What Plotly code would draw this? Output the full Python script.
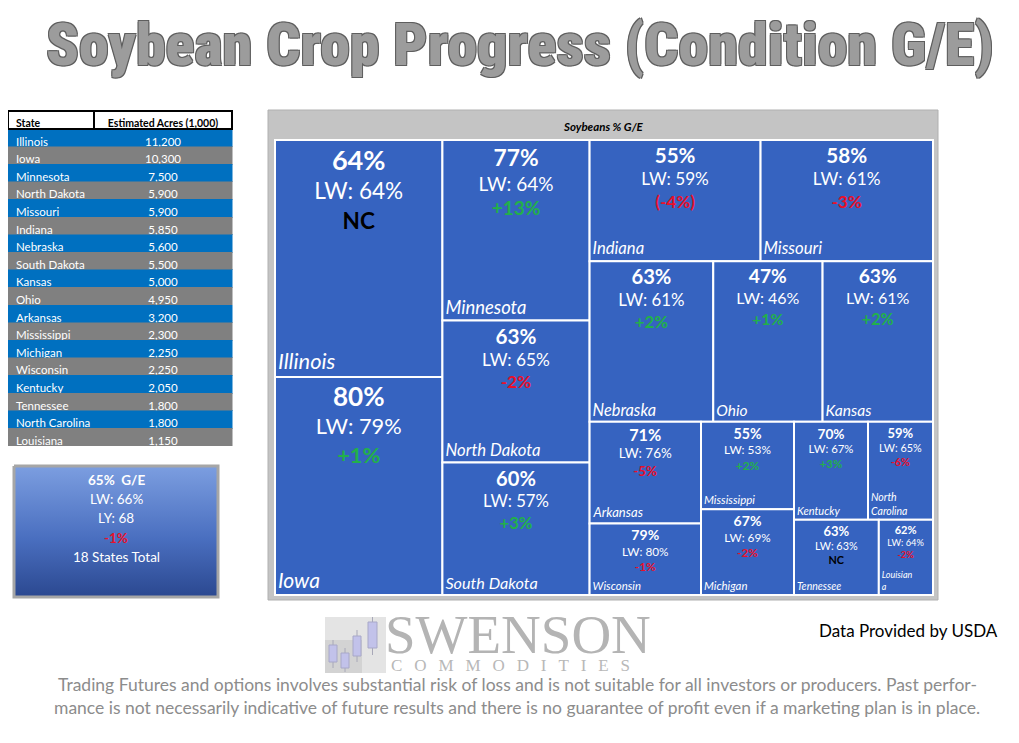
import math
import plotly.graph_objects as go

# page offset (browser body margin) and figure size
OFF = 8
W, H = 1003, 727

TITLE = "Soybean Crop Progress (Condition G/E)"
TREEMAP_TITLE = "Soybeans % G/E"

# ---- table data ----
TABLE_HEADER = ["State", "Estimated Acres (1,000)"]
TABLE_STATES = ["Illinois", "Iowa", "Minnesota", "North Dakota", "Missouri", "Indiana",
                "Nebraska", "South Dakota", "Kansas", "Ohio", "Arkansas", "Mississippi",
                "Michigan", "Wisconsin", "Kentucky", "Tennessee", "North Carolina", "Louisiana"]
TABLE_ACRES = [11200, 10300, 7500, 5900, 5900, 5850, 5600, 5500, 5000, 4950, 3200, 2300,
               2250, 2250, 2050, 1800, 1800, 1150]

# ---- treemap data (in tile order) ----
TM_STATES = ["Illinois", "Iowa", "Minnesota", "North Dakota", "South Dakota", "Indiana",
             "Missouri", "Nebraska", "Ohio", "Kansas", "Arkansas", "Wisconsin",
             "Mississippi", "Michigan", "Kentucky", "North Carolina", "Tennessee", "Louisiana"]
TM_GE = [64, 80, 77, 63, 60, 55, 58, 63, 47, 63, 71, 79, 55, 67, 70, 59, 63, 62]
TM_LW = [64, 79, 64, 65, 57, 59, 61, 61, 46, 61, 76, 80, 53, 69, 67, 65, 63, 64]
TM_CHANGE = ["NC", "+1%", "+13%", "-2%", "+3%", "(-4%)", "-3%", "+2%", "+1%", "+2%",
             "-5%", "-1%", "+2%", "-2%", "+3%", "-6%", "NC", "-2%"]
TM_NAME_LABEL = ["Illinois", "Iowa", "Minnesota", "North Dakota", "South Dakota", "Indiana",
                 "Missouri", "Nebraska", "Ohio", "Kansas", "Arkansas", "Wisconsin",
                 "Mississippi", "Michigan", "Kentucky", "North<br>Carolina", "Tennessee",
                 "Louisian<br>a"]
# grouping used to arrange the tiles (slice-dice)
TM_GROUP = ["col1", "col1", "col2", "col2", "col2", "row1", "row1", "row2", "row2", "row2",
            "r3a", "r3a", "r3b", "r3b", "r3c1", "r3c1", "r3c2", "r3c2"]
GROUPS = ["all", "col1", "col2", "col3", "row1", "row2", "row3", "r3a", "r3b", "r3c",
          "r3c1", "r3c2"]
GROUP_PARENTS = ["", "all", "all", "all", "col3", "col3", "col3", "row3", "row3", "row3",
                 "r3c", "r3c"]

# ---- summary ----
SUM_GE = 65
SUM_LW = 66
SUM_LY = 68
SUM_CHANGE = "-1%"
SUM_STATES = 18

SOURCE = "Data Provided by USDA"
DISCLAIMER_1 = ("Trading Futures and options involves substantial risk of loss and is not suitable "
                "for all investors or producers. Past perfor-")
DISCLAIMER_2 = ("mance is not necessarily indicative of future results and there is no guarantee "
                "of profit even if a marketing plan is in place.")

# ---------------------------------------------------------------
BLUE = "#3663c0"
GREEN = "#22b04b"
RED = "#e8102a"
FONT = "Lato"
COND = "font-stretch:condensed"
NBSP = "\u00a0"


def px_x(p):
    return (p - OFF) / W


def px_y(p):
    return 1 - (p - OFF) / H


def change_color(c):
    if c.startswith("+"):
        return GREEN
    if c.startswith("-") or c.startswith("(-"):
        return RED
    return "#000000"


acre_map = dict(zip(TABLE_STATES, TABLE_ACRES))
tm_acres = [acre_map[s] for s in TM_STATES]

ids = GROUPS + TM_STATES
parents = GROUP_PARENTS + TM_GROUP
values = [0] * len(GROUPS) + tm_acres

sizes = [3.0 + 0.185 * math.sqrt(a) for a in tm_acres]

main_text = []
for ge, lw, ch, sz in zip(TM_GE, TM_LW, TM_CHANGE, sizes):
    main_text.append(
        f"<b><span style='font-size:{sz*1.2:.1f}px'>{ge}%</span></b><br>LW: {lw}%<br>"
        f"<b><span style='color:{change_color(ch)}'>{ch}</span></b>")
name_text = [f"<i>{n}</i>" for n in TM_NAME_LABEL]

ng = len(GROUPS)
domain = dict(x=[px_x(275), px_x(933)], y=[px_y(595), px_y(140)])

fig = go.Figure()

fig.add_trace(go.Treemap(
    ids=ids, labels=ids, parents=parents, values=values,
    branchvalues="remainder", sort=False,
    tiling=dict(packing="slice-dice", pad=0),
    marker=dict(colors=["rgba(0,0,0,0)"] * ng + [BLUE] * len(TM_STATES),
                line=dict(color=["rgba(0,0,0,0)"] * ng + ["white"] * len(TM_STATES),
                          width=[0] * ng + [2] * len(TM_STATES)),
                pad=dict(t=0, l=0, r=0, b=0), depthfade=False),
    text=[""] * ng + main_text, textinfo="text",
    textposition="top center",
    textfont=dict(family=FONT, color="white", size=[10] * ng + sizes),
    pathbar=dict(visible=False), hoverinfo="skip", domain=domain,
))
fig.add_trace(go.Treemap(
    ids=ids, labels=ids, parents=parents, values=values,
    branchvalues="remainder", sort=False,
    tiling=dict(packing="slice-dice", pad=0),
    marker=dict(colors=["rgba(0,0,0,0)"] * len(ids),
                line=dict(color="rgba(0,0,0,0)", width=0),
                pad=dict(t=0, l=0, r=0, b=0), depthfade=False),
    text=[""] * ng + name_text, textinfo="text",
    textposition="bottom left",
    textfont=dict(family=FONT, color="white", size=[10] * ng + [s * 0.97 for s in sizes]),
    pathbar=dict(visible=False), hoverinfo="skip", domain=domain,
))

# ---- table ----
row_fill = ["#0070c0" if i % 2 == 0 else "#808080" for i in range(len(TABLE_STATES))]
fig.add_trace(go.Table(
    domain=dict(x=[px_x(OFF), px_x(232)], y=[px_y(449), px_y(111)]),
    columnwidth=[86, 138],
    header=dict(values=[h.replace(" ", NBSP) for h in TABLE_HEADER],
                fill_color="white", line=dict(color="black", width=1.5),
                font=dict(family=FONT, size=10.5, color="black", weight="bold"),
                align=["left", "center"], height=18),
    cells=dict(values=[[s.replace(" ", NBSP) for s in TABLE_STATES],
                       [f"{a:,}" for a in TABLE_ACRES]],
               fill_color=[row_fill, row_fill], line=dict(color=[row_fill, row_fill], width=0.5),
               font=dict(family=FONT, size=11.5, color="white"),
               align=["left", "center"], height=17.6),
))

# ---- summary box (gradient) ----
fig.add_trace(go.Scatter(
    x=[14, 218, 218, 14, 14], y=[466, 466, 597, 597, 466], mode="lines",
    line=dict(color="#a6a6a6", width=3), fill="toself",
    fillgradient=dict(type="vertical", start=466, stop=597,
                      colorscale=[[0, "#7c9ee0"], [0.55, "#4a6fc0"], [1, "#2b4890"]]),
    hoverinfo="skip", showlegend=False, xaxis="x", yaxis="y",
))

shapes = []
# treemap frame
shapes.append(dict(type="rect", xref="x", yref="y", x0=268, x1=938, y0=110, y1=600,
                   fillcolor="#c4c4c4", line=dict(color="#b0b0b0", width=1), layer="below"))

# logo icon
shapes.append(dict(type="rect", xref="x", yref="y", x0=325, x1=386, y0=617, y1=673,
                   fillcolor="#e4e4e4", line=dict(width=0), layer="below"))
shapes.append(dict(type="rect", xref="x", yref="y", x0=325, x1=362, y0=640, y1=673,
                   fillcolor="#d3d3d3", line=dict(width=0), layer="below"))
candles = [(329, 337, 645, 662, 640, 668), (341, 349, 653, 668, 648, 672),
           (353, 361, 636, 656, 630, 662), (368, 377, 622, 648, 617, 655)]
for x0, x1, y0, y1, w0, w1 in candles:
    xm = (x0 + x1) / 2
    shapes.append(dict(type="line", xref="x", yref="y", x0=xm, x1=xm, y0=w0, y1=w1,
                       line=dict(color="#a8a8b8", width=1), layer="below"))
    shapes.append(dict(type="rect", xref="x", yref="y", x0=x0, x1=x1, y0=y0, y1=y1,
                       fillcolor="#c2c2ea", line=dict(color="#a8a8c8", width=1), layer="below"))

annotations = []
shadow = "-1px -1px 0 #5e5e5e, 1px -1px 0 #5e5e5e, -1px 1px 0 #5e5e5e, 1px 1px 0 #5e5e5e"
annotations.append(dict(x=520, y=44, xref="x", yref="y",
                        text=f"<span style='{COND};font-weight:900'>{TITLE}</span>",
                        showarrow=False, xanchor="center", yanchor="middle",
                        font=dict(family="Roboto", size=60, color="#9c9c9c", weight=900,
                                  shadow=shadow)))
annotations.append(dict(x=603, y=126, xref="x", yref="y", text=f"<b><i>{TREEMAP_TITLE}</i></b>",
                        showarrow=False, xanchor="center", yanchor="middle",
                        font=dict(family=FONT, size=11.5, color="black")))

sum_lines = [(f"<b>{SUM_GE}%  G/E</b>", "white", 480),
             (f"LW: {SUM_LW}%", "white", 499),
             (f"LY: {SUM_LY}", "white", 518),
             (f"<b>{SUM_CHANGE}</b>", RED, 538),
             (f"{SUM_STATES} States Total", "white", 557)]
for t, c, yy in sum_lines:
    annotations.append(dict(x=116, y=yy, xref="x", yref="y", text=t, showarrow=False,
                            xanchor="center", yanchor="middle",
                            font=dict(family=FONT, size=13.5, color=c)))

annotations.append(dict(x=383, y=634, xref="x", yref="y", text="SWENSON", showarrow=False,
                        xanchor="left", yanchor="middle",
                        font=dict(family="Liberation Serif", size=55, color="#b4b4b4")))
annotations.append(dict(x=389, y=665, xref="x", yref="y",
                        text="\u2002\u2009".join("COMMODITIES"), showarrow=False,
                        xanchor="left", yanchor="middle",
                        font=dict(family="Liberation Serif", size=17, color="#b8b8b8")))
annotations.append(dict(x=1000, y=630, xref="x", yref="y", text=SOURCE, showarrow=False,
                        xanchor="right", yanchor="middle",
                        font=dict(family=FONT, size=17, color="black")))
annotations.append(dict(x=517, y=684, xref="x", yref="y", text=DISCLAIMER_1, showarrow=False,
                        xanchor="center", yanchor="middle",
                        font=dict(family=FONT, size=17.5, color="#8c8c8c")))
annotations.append(dict(x=517, y=707, xref="x", yref="y", text=DISCLAIMER_2, showarrow=False,
                        xanchor="center", yanchor="middle",
                        font=dict(family=FONT, size=17.5, color="#8c8c8c")))

fig.update_layout(
    width=W, height=H, margin=dict(l=0, r=0, t=0, b=0),
    paper_bgcolor="white", plot_bgcolor="rgba(0,0,0,0)",
    xaxis=dict(range=[OFF, OFF + W], visible=False, domain=[0, 1], fixedrange=True),
    yaxis=dict(range=[OFF + H, OFF], visible=False, domain=[0, 1], fixedrange=True),
    showlegend=False, shapes=shapes, annotations=annotations,
)

fig.write_html("out.html")
